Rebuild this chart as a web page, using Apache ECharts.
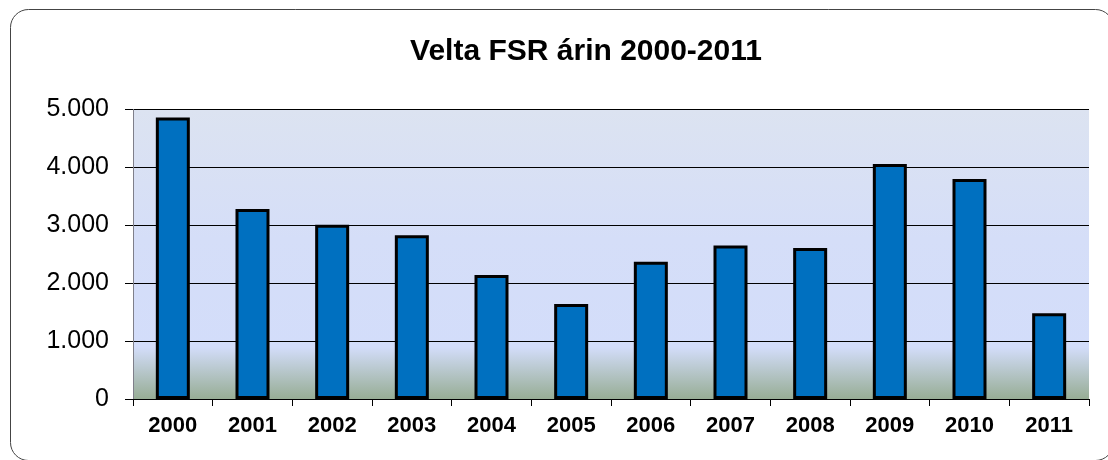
<!DOCTYPE html>
<html>
<head>
<meta charset="utf-8">
<title>Velta FSR árin 2000-2011</title>
<script src="https://cdn.jsdelivr.net/npm/echarts@6/dist/echarts.min.js"></script>
<style>
	html, body { margin: 0; padding: 0; background: #fff; }
	#chart { width: 1108px; height: 460px; }
</style>
</head>
<body>
<div id="chart"></div>
<script>
// ár og velta
var years = ['2000', '2001', '2002', '2003', '2004', '2005', '2006', '2007', '2008', '2009', '2010', '2011'];
var velta = [4860, 3280, 3010, 2830, 2140, 1640, 2370, 2650, 2610, 4060, 3800, 1480];

// 5000 -> '5.000'
function thousands(v) {
	return String(v).replace(/\B(?=(\d{3})+(?!\d))/g, '.');
}

var option = {
	animation: false,
	backgroundColor: '#fff',
	textStyle: {
		fontFamily: '"Liberation Sans", Arial, sans-serif'
	},
	title: {
		text: 'Velta FSR árin 2000-2011',
		left: 581,
		textAlign: 'center',
		top: 32,
		textStyle: {
			color: '#000',
			fontSize: 30,
			fontWeight: 'bold',
			fontFamily: '"Liberation Sans", Arial, sans-serif'
		}
	},
	// rammi utan um myndina
	graphic: [{
		type: 'rect',
		shape: { x: 10.5, y: 9.5, width: 1103, height: 451, r: 18 },
		style: { fill: 'none', stroke: '#444', lineWidth: 1 },
		z: 100
	}],
	grid: {
		left: 133,
		top: 109.5,
		right: 19,
		bottom: 61,
		show: true,
		borderWidth: 0,
		backgroundColor: {
			type: 'linear',
			x: 0, y: 0, x2: 0, y2: 1,
			colorStops: [
				{ offset: 0, color: '#dce3f1' },
				{ offset: 0.45, color: '#d5def8' },
				{ offset: 0.82, color: '#d3ddfa' },
				{ offset: 1, color: '#97ad95' }
			]
		}
	},
	xAxis: {
		type: 'category',
		data: years,
		boundaryGap: true,
		axisLine: { show: true, lineStyle: { color: '#000', width: 1 } },
		axisTick: { show: true, length: 7, lineStyle: { color: '#000' } },
		axisLabel: {
			color: '#000',
			fontSize: 22,
			fontWeight: 'bold',
			margin: 16
		}
	},
	yAxis: {
		type: 'value',
		min: 0,
		max: 5000,
		interval: 1000,
		axisLine: { show: true, lineStyle: { color: '#7f7f8a', width: 1 } },
		axisTick: { show: true, length: 8, lineStyle: { color: '#000' } },
		splitLine: { show: true, lineStyle: { color: '#000', width: 1 } },
		axisLabel: {
			color: '#000',
			fontSize: 25,
			margin: 24,
			formatter: thousands
		}
	},
	series: [{
		type: 'bar',
		data: velta,
		barWidth: 34,
		itemStyle: {
			color: '#0070c0',
			borderColor: '#000',
			borderWidth: 3
		}
	}]
};

var chart = echarts.init(document.getElementById('chart'));
chart.setOption(option);
</script>
</body>
</html>
